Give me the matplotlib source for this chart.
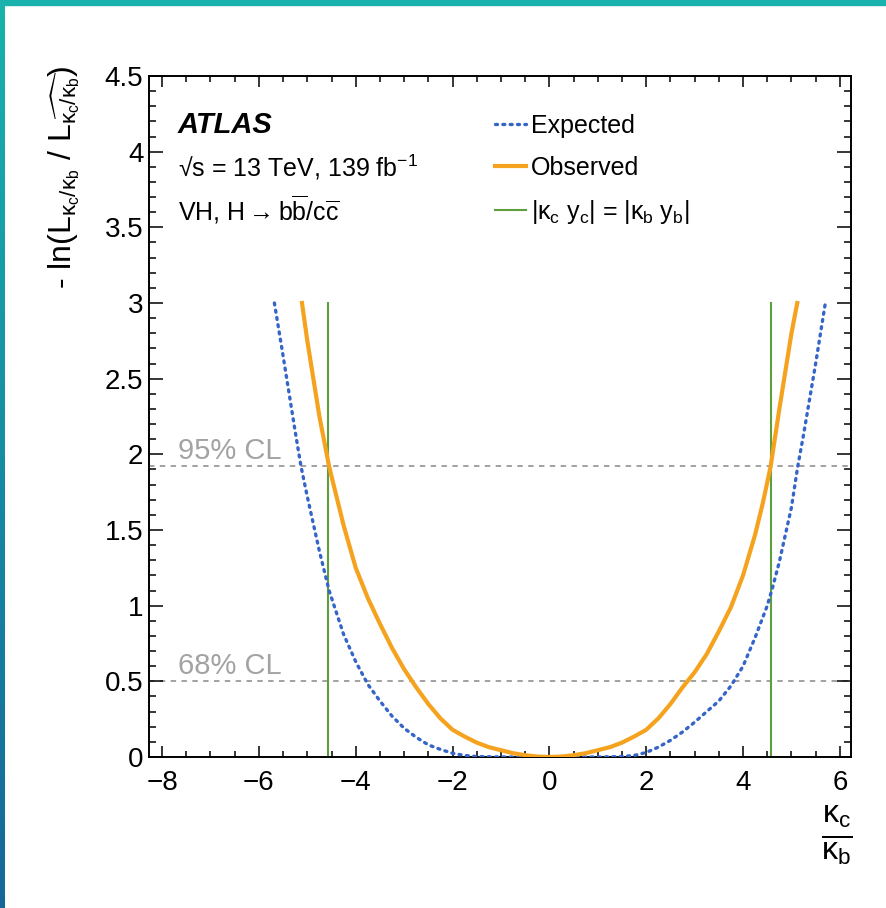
import numpy as np
import matplotlib
matplotlib.use("Agg")
import matplotlib.pyplot as plt
from matplotlib.patches import Rectangle
from matplotlib.ticker import MultipleLocator, FuncFormatter

plt.rcParams["font.family"] = ["Liberation Sans", "DejaVu Sans"]
plt.rcParams["mathtext.fontset"] = "custom"
plt.rcParams["mathtext.rm"] = "Liberation Sans"
plt.rcParams["mathtext.it"] = "Liberation Sans"
plt.rcParams["mathtext.bf"] = "Liberation Sans:bold"

# likelihood scan of kappa_c / kappa_b
expected_x = [-5.68, -5.50, -5.25, -5.13, -5.00, -4.75, -4.55, -4.25, -4.00, -3.75,
              -3.50, -3.25, -3.00, -2.75, -2.50, -2.25, -2.00, -1.75, -1.50, -1.00,
              0.00, 1.00, 1.50, 1.75, 2.00, 2.25, 2.50, 2.75, 3.00, 3.25,
              3.50, 3.75, 4.00, 4.25, 4.50, 4.61, 4.75, 5.00, 5.13, 5.25,
              5.50, 5.70]
expected_y = [3.00, 2.65, 2.15, 1.92, 1.72, 1.36, 1.10, 0.81, 0.63, 0.48,
              0.37, 0.27, 0.19, 0.13, 0.08, 0.05, 0.025, 0.01, 0.003, 0.00,
              0.00, 0.00, 0.003, 0.01, 0.03, 0.065, 0.11, 0.165, 0.23, 0.30,
              0.37, 0.47, 0.60, 0.79, 1.00, 1.12, 1.29, 1.65, 1.92, 2.13,
              2.60, 3.00]

observed_x = [-5.11, -5.00, -4.75, -4.55, -4.25, -4.00, -3.75, -3.50, -3.25, -3.00,
              -2.75, -2.50, -2.25, -2.00, -1.75, -1.50, -1.25, -1.00, -0.75, -0.50,
              -0.25, 0.00, 0.25, 0.50, 0.75, 1.00, 1.25, 1.50, 1.75, 2.00,
              2.25, 2.50, 2.75, 3.00, 3.25, 3.50, 3.75, 4.00, 4.25, 4.41,
              4.57, 4.75, 5.00, 5.12]
observed_y = [3.00, 2.75, 2.25, 1.92, 1.53, 1.25, 1.05, 0.88, 0.72, 0.58,
              0.46, 0.35, 0.255, 0.18, 0.135, 0.095, 0.065, 0.045, 0.025, 0.012,
              0.003, 0.00, 0.003, 0.012, 0.025, 0.045, 0.065, 0.095, 0.135, 0.18,
              0.255, 0.35, 0.46, 0.56, 0.68, 0.83, 0.99, 1.20, 1.47, 1.68,
              1.92, 2.30, 2.80, 3.00]

# |kappa_c y_c| = |kappa_b y_b|  ->  kappa_c/kappa_b = +- m_b/m_c
yukawa_ratio = 4.578
cl_levels = [0.5, 1.92]
cl_labels = ["68% CL", "95% CL"]

fig = plt.figure(figsize=(8.87, 9.08), dpi=100)

# frame decoration on the top and left edges
fig.add_artist(Rectangle((0, 1 - 5 / 908), 1, 5 / 908, transform=fig.transFigure,
                         color="#19b2ac", zorder=10))
bar = fig.add_axes([0, 0, 5 / 887, 1 - 5 / 908])
grad = np.linspace(0, 1, 256).reshape(-1, 1)
cmap = matplotlib.colors.LinearSegmentedColormap.from_list("edge", ["#19b2ac", "#15679a"])
bar.imshow(grad, aspect="auto", cmap=cmap, extent=[0, 1, 0, 1])
bar.set_axis_off()

ax = fig.add_axes([149 / 887, 1 - 757 / 908, 702 / 887, 681 / 908])

for lvl, lab in zip(cl_levels, cl_labels):
    ax.axhline(lvl, color="#9a9a9a", lw=1.3, ls=(0, (3, 3)), zorder=1)
    ax.text(-7.68, lvl + 0.05, lab, color="#a3a3a3", fontsize=21, ha="left", va="baseline")

ax.plot(expected_x, expected_y, color="#3565c9", lw=2.4, ls=(0, (0.6, 1.6)),
        dash_capstyle="round", label="Expected", zorder=3)
ax.plot(observed_x, observed_y, color="#f5a31f", lw=3.0, label="Observed", zorder=4)
ax.plot([-yukawa_ratio, -yukawa_ratio], [0, 3], color="#5e9e3c", lw=1.5,
        label=r"|$\kappa_c$ y$_c$| = |$\kappa_b$ y$_b$|", zorder=2)
ax.plot([yukawa_ratio, yukawa_ratio], [0, 3], color="#5e9e3c", lw=1.5, zorder=2)

ax.set_xlim(-8.27, 6.23)
ax.set_ylim(0, 4.5)
ax.xaxis.set_major_locator(MultipleLocator(2))
ax.xaxis.set_minor_locator(MultipleLocator(0.5))
ax.yaxis.set_major_locator(MultipleLocator(0.5))
ax.yaxis.set_minor_locator(MultipleLocator(0.1))
ax.yaxis.set_major_formatter(FuncFormatter(lambda v, p: "%g" % v))
ax.tick_params(which="both", direction="in", top=True, right=True, width=1.1,
               labelsize=20)
ax.tick_params(axis="x", which="major", length=8, pad=9)
ax.tick_params(axis="x", which="minor", length=4)
ax.tick_params(axis="y", which="major", length=10, pad=4)
ax.tick_params(axis="y", which="minor", length=5)
for s in ax.spines.values():
    s.set_linewidth(1.4)

ax.text(0.041, 0.916, "ATLAS", transform=ax.transAxes, fontsize=21,
        fontweight="bold", fontstyle="italic", ha="left", va="baseline")
ax.text(0.041, 0.852, "\u221as = 13 TeV, 139 fb$^{-1}$", transform=ax.transAxes,
        fontsize=18, ha="left", va="baseline")
ax.text(0.041, 0.788, r"VH, H$\rightarrow$b$\overline{\mathrm{b}}$/c$\overline{\mathrm{c}}$",
        transform=ax.transAxes, fontsize=18, ha="left", va="baseline")

ax.legend(loc="upper left", bbox_to_anchor=(0.493, 0.944), frameon=False, fontsize=18,
          handlelength=1.25, handletextpad=0.2, labelspacing=0.72, borderaxespad=0,
          borderpad=0)

fig.text(64 / 887, 1 - 66 / 908,
         r"- ln(L$_{\kappa_c/\kappa_b}$ / L$_{\widehat{\kappa_c/\kappa_b}}$)",
         rotation=90, ha="center", va="top", fontsize=23)
fig.text(837 / 887, 1 - 835 / 908, r"$\frac{\kappa_c}{\kappa_b}$",
         ha="center", va="center", fontsize=33)

fig.savefig("out.png", dpi=100)
